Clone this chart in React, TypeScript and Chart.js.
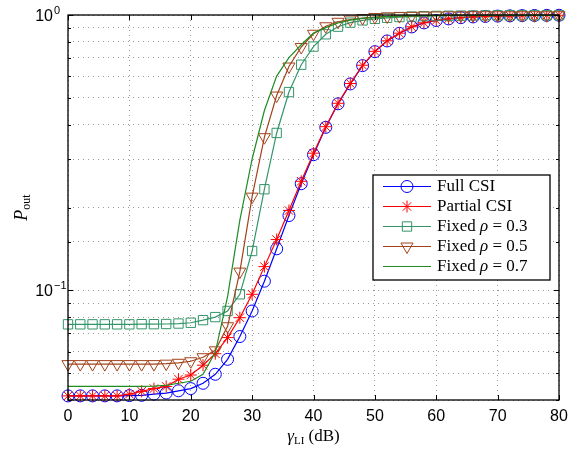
import { useEffect, useRef } from "react";
import { Chart, registerables } from "chart.js";
import { drawPoint } from "chart.js/helpers";

Chart.register(...registerables);

// ---- data -------------------------------------------------------------
const gammaLI = [0, 2, 4, 6, 8, 10, 12, 14, 16, 18, 20, 22, 24, 26, 28, 30, 32, 34, 36, 38, 40,
  42, 44, 46, 48, 50, 52, 54, 56, 58, 60, 62, 64, 66, 68, 70, 72, 74, 76, 78, 80];

const fullCSI = [0.0414, 0.0414, 0.0414, 0.0414, 0.0414, 0.0415, 0.0416, 0.042, 0.0424, 0.0432,
  0.044, 0.046, 0.0496, 0.0562, 0.068, 0.0842, 0.108, 0.1416, 0.187, 0.244, 0.311,
  0.391, 0.476, 0.562, 0.655, 0.736, 0.805, 0.858, 0.905, 0.936, 0.955, 0.968, 0.978,
  0.984, 0.988, 0.991, 0.993, 0.995, 0.996, 0.997, 0.998];

const partialCSI = [0.0414, 0.0414, 0.0414, 0.0414, 0.0414, 0.042, 0.043, 0.044, 0.0448, 0.0476,
  0.0493, 0.0535, 0.0589, 0.0674, 0.0796, 0.0968, 0.122, 0.153, 0.195, 0.249, 0.315,
  0.393, 0.478, 0.564, 0.657, 0.738, 0.806, 0.859, 0.906, 0.937, 0.956, 0.969, 0.978,
  0.984, 0.988, 0.991, 0.993, 0.995, 0.996, 0.997, 0.998];

const fixedRho03 = [0.0753, 0.0753, 0.0753, 0.0753, 0.0753, 0.0753, 0.0754, 0.0754, 0.0755, 0.0758,
  0.0763, 0.078, 0.08, 0.0842, 0.0968, 0.139, 0.233, 0.373, 0.525, 0.66, 0.768,
  0.851, 0.907, 0.938, 0.956, 0.968, 0.977, 0.983, 0.987, 0.99, 0.992, 0.994, 0.995,
  0.996, 0.997, 0.997, 0.998, 0.998, 0.998, 0.998, 0.998];

const fixedRho05 = [0.054, 0.054, 0.054, 0.054, 0.054, 0.054, 0.054, 0.054, 0.0542, 0.0546,
  0.0553, 0.0572, 0.0606, 0.0741, 0.117, 0.219, 0.36, 0.51, 0.65, 0.765, 0.855,
  0.91, 0.945, 0.963, 0.975, 0.983, 0.988, 0.991, 0.993, 0.995, 0.996, 0.997, 0.997,
  0.998, 0.998, 0.998, 0.998, 0.998, 0.998, 0.998, 0.998];

const fixedRho07 = [0.0448, 0.0448, 0.0448, 0.0448, 0.0448, 0.0448, 0.0448, 0.0449, 0.0452, 0.046,
  0.0468, 0.0496, 0.0596, 0.095, 0.18, 0.3, 0.45, 0.6, 0.7, 0.78, 0.86,
  0.9, 0.935, 0.958, 0.972, 0.981, 0.987, 0.991, 0.993, 0.995, 0.996, 0.997, 0.998,
  0.998, 0.998, 0.998, 0.998, 0.998, 0.998, 0.998, 0.998];

const seriesNames = ["Full CSI", "Partial CSI", "Fixed ρ = 0.3", "Fixed ρ = 0.5", "Fixed ρ = 0.7"];
const yTickLabels = [
  { value: 1, base: "10", exp: "0" },
  { value: 0.1, base: "10", exp: "−1" },
];

// ---- styles -----------------------------------------------------------
const SERIF = "'Liberation Serif', 'DejaVu Serif', serif";
const SANS = "'Liberation Sans', Arial, sans-serif";
const BLUE = "#0000ff";
const RED = "#ff0000";
const SEA = "#32966a";
const BROWN = "#a3421a";
const GREEN = "#1e8c23";

const styles = [
  { color: BLUE, pointStyle: "circle", radius: 6, rotation: 0 },
  { color: RED, pointStyle: "star", radius: 6, rotation: 0 },
  { color: SEA, pointStyle: "rect", radius: 6.6, rotation: 0 },
  { color: BROWN, pointStyle: "triangle", radius: 7, rotation: 180 },
  { color: GREEN, pointStyle: false as any, radius: 0, rotation: 0 },
];

type Seg = { t: string; font: string; dy?: number };
function drawSegs(ctx: CanvasRenderingContext2D, segs: Seg[], x: number, y: number, align: "left" | "center") {
  let total = 0;
  const widths = segs.map((s) => {
    ctx.font = s.font;
    const w = ctx.measureText(s.t).width;
    total += w;
    return w;
  });
  let cx = align === "center" ? x - total / 2 : x;
  segs.forEach((s, i) => {
    ctx.font = s.font;
    ctx.fillText(s.t, cx, y + (s.dy || 0));
    cx += widths[i];
  });
}

const decorPlugin = {
  id: "decor",
  afterDatasetsDraw(chart: any) {
    const { ctx, chartArea: a, scales } = chart;
    const xs = scales.x;
    const ys = scales.y;
    ctx.save();
    ctx.strokeStyle = "#000";
    ctx.lineWidth = 1.3;
    ctx.strokeRect(a.left, a.top, a.right - a.left, a.bottom - a.top);

    // inward tick marks
    ctx.lineWidth = 1;
    ctx.beginPath();
    xs.ticks.forEach((t: any) => {
      const px = Math.round(xs.getPixelForValue(t.value)) + 0.5;
      ctx.moveTo(px, a.bottom);
      ctx.lineTo(px, a.bottom - 5);
      ctx.moveTo(px, a.top);
      ctx.lineTo(px, a.top + 5);
    });
    ys.ticks.forEach((t: any) => {
      const py = Math.round(ys.getPixelForValue(t.value)) + 0.5;
      const lg = Math.log10(t.value);
      const len = Math.abs(lg - Math.round(lg)) < 1e-6 ? 5 : 3;
      ctx.moveTo(a.left, py);
      ctx.lineTo(a.left + len, py);
      ctx.moveTo(a.right, py);
      ctx.lineTo(a.right - len, py);
    });
    ctx.stroke();

    // y tick labels with superscripts
    ctx.fillStyle = "#000";
    ctx.textBaseline = "alphabetic";
    yTickLabels.forEach((l) => {
      const py = ys.getPixelForValue(l.value);
      ctx.font = `16px ${SANS}`;
      ctx.textAlign = "right";
      ctx.fillText(l.base, 53, py + 6);
      ctx.font = `11px ${SANS}`;
      ctx.textAlign = "left";
      ctx.fillText(l.exp, 54, py - 1);
    });

    // axis titles
    ctx.textAlign = "left";
    drawSegs(ctx, [
      { t: "γ", font: `italic 17px ${SERIF}` },
      { t: "LI", font: `11px ${SERIF}`, dy: 3 },
      { t: " (dB)", font: `17px ${SERIF}` },
    ], (a.left + a.right) / 2, 441, "center");

    ctx.save();
    ctx.translate(27, (a.top + a.bottom) / 2);
    ctx.rotate(-Math.PI / 2);
    drawSegs(ctx, [
      { t: "P", font: `italic 18px ${SERIF}` },
      { t: "out", font: `12px ${SERIF}`, dy: 3 },
    ], 0, 0, "center");
    ctx.restore();

    // legend
    const lx = 373, ly = 175, lw = 177, lh = 105;
    ctx.fillStyle = "#fff";
    ctx.fillRect(lx, ly, lw, lh);
    ctx.strokeStyle = "#000";
    ctx.lineWidth = 1.3;
    ctx.strokeRect(lx, ly, lw, lh);
    seriesNames.forEach((name, i) => {
      const st = styles[i];
      const ry = 186.5 + i * 20;
      ctx.strokeStyle = st.color;
      ctx.lineWidth = 1.2;
      ctx.beginPath();
      ctx.moveTo(383, ry);
      ctx.lineTo(431, ry);
      ctx.stroke();
      if (st.pointStyle) {
        ctx.strokeStyle = st.color;
        ctx.fillStyle = "rgba(0,0,0,0)";
        ctx.lineWidth = 1;
        drawPoint(ctx, { pointStyle: st.pointStyle, radius: st.radius, rotation: st.rotation, borderWidth: 1 } as any, 407, ry);
      }
      ctx.fillStyle = "#000";
      ctx.textBaseline = "middle";
      if (name.startsWith("Fixed")) {
        const val = name.split("= ")[1];
        drawSegs(ctx, [
          { t: "Fixed ", font: `17px ${SERIF}` },
          { t: "ρ", font: `italic 17px ${SERIF}` },
          { t: " = " + val, font: `17px ${SERIF}` },
        ], 437, ry, "left");
      } else {
        ctx.font = `17px ${SERIF}`;
        ctx.fillText(name, 437, ry);
      }
    });
    ctx.restore();
  },
};

export default function App() {
  const ref = useRef<HTMLCanvasElement | null>(null);
  useEffect(() => {
    document.body.style.margin = "0";
    const canvas = ref.current;
    if (!canvas) return;
    const all = [fullCSI, partialCSI, fixedRho03, fixedRho05, fixedRho07];
    const datasets = all.map((vals, i) => ({
      label: seriesNames[i],
      data: gammaLI.map((x, j) => ({ x, y: vals[j] })),
      borderColor: styles[i].color,
      backgroundColor: "rgba(0,0,0,0)",
      borderWidth: 1.2,
      pointStyle: styles[i].pointStyle,
      pointRadius: styles[i].radius,
      pointRotation: styles[i].rotation,
      pointBorderWidth: 1,
      pointBorderColor: styles[i].color,
      pointBackgroundColor: "rgba(0,0,0,0)",
      tension: 0,
      fill: false,
      clip: false as any,
      order: 5 - i,
    }));
    const chart = new Chart(canvas, {
      type: "line",
      data: { datasets },
      options: {
        animation: false,
        responsive: false,
        devicePixelRatio: window.devicePixelRatio || 1,
        layout: { padding: { left: 0, right: 28, top: 15, bottom: 0 } },
        plugins: { legend: { display: false }, tooltip: { enabled: false } },
        scales: {
          x: {
            type: "linear",
            min: 0,
            max: 80,
            afterFit: (s: any) => { s.height = 54; },
            ticks: { stepSize: 10, color: "#000", font: { family: SANS, size: 16 }, padding: 7, maxRotation: 0, autoSkip: false },
            grid: { color: "#999999", lineWidth: 1, drawTicks: false },
            border: { display: false, dash: [1, 4] },
          },
          y: {
            type: "logarithmic",
            min: 0.04,
            max: 1,
            afterFit: (s: any) => { s.width = 68; },
            ticks: { display: false },
            grid: { color: "#999999", lineWidth: 1, drawTicks: false },
            border: { display: false, dash: [1, 4] },
          },
        },
      },
      plugins: [decorPlugin],
    });
    return () => chart.destroy();
  }, []);
  return <canvas ref={ref} width={587} height={454} style={{ display: "block" }} />;
}
